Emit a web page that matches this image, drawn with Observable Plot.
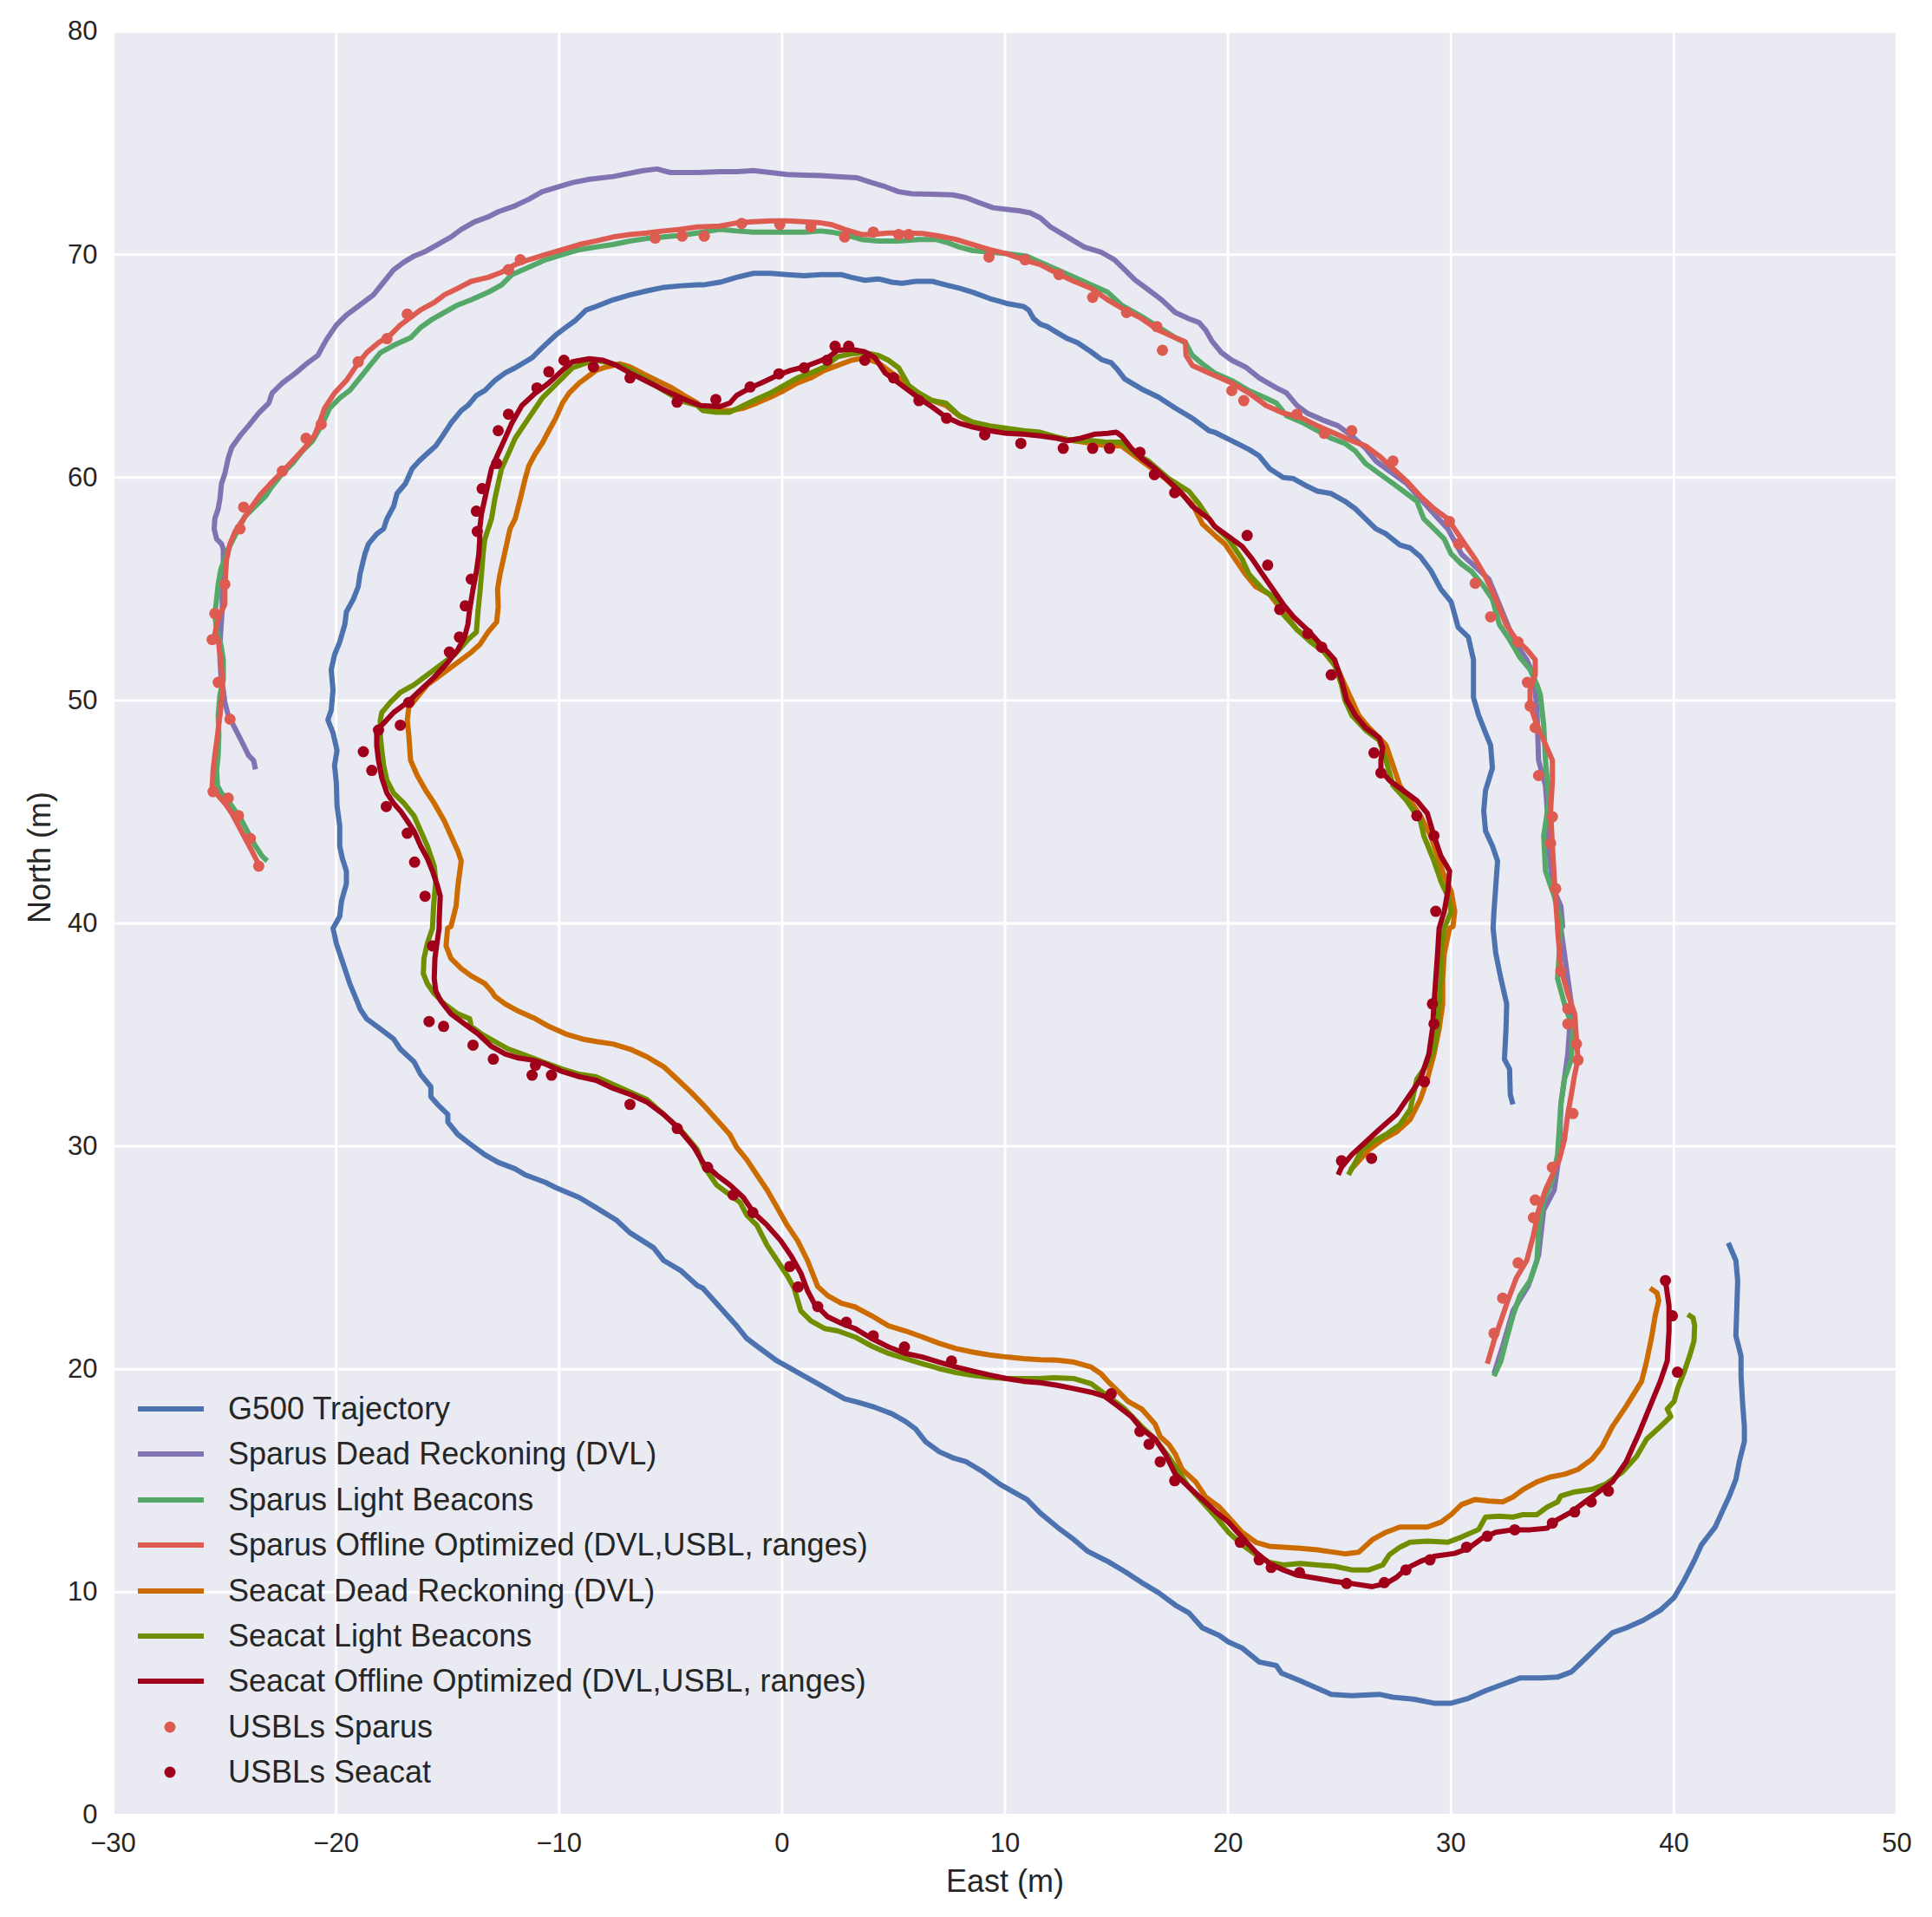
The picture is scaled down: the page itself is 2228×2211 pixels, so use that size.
<!DOCTYPE html>
<html><head><meta charset="utf-8">
<script src="https://cdn.jsdelivr.net/npm/d3@7"></script>
<script src="https://cdn.jsdelivr.net/npm/@observablehq/plot@0.6"></script>
<style>
html,body{margin:0;padding:0;background:#fff;}
#wrap{position:relative;width:2228px;height:2211px;font-family:"Liberation Sans",Arial,sans-serif;color:#262626;}
.leg{position:absolute;left:159px;height:50px;display:flex;align-items:center;white-space:nowrap;font-size:36px;}
.leg svg{width:76px;height:50px;margin-right:28px;flex:none;}
</style></head><body><div id="wrap"></div>
<script>
// ---------- tick labels ----------
const xTicks = [-30,-20,-10,0,10,20,30,40,50];
const yTicks = [0,10,20,30,40,50,60,70,80];
const xLabel = "East (m)";
const yLabel = "North (m)";

// ---------- series names ----------
const names = [
  "G500 Trajectory",
  "Sparus Dead Reckoning (DVL)",
  "Sparus Light Beacons",
  "Sparus Offline Optimized (DVL,USBL, ranges)",
  "Seacat Dead Reckoning (DVL)",
  "Seacat Light Beacons",
  "Seacat Offline Optimized (DVL,USBL, ranges)",
  "USBLs Sparus",
  "USBLs Seacat"
];

// ---------- data: [East, North] ----------
const g500 = [[42.44,25.67],[42.78,24.88],[42.86,23.98],[42.81,22.40],[42.78,21.50],[43.01,20.59],[43.01,19.69],[43.09,18.34],[43.16,17.43],[43.16,16.76],[42.93,15.85],[42.78,15.06],[42.47,14.27],[42.16,13.60],[41.85,12.92],[41.24,12.13],[40.93,11.45],[40.47,10.55],[40.01,9.76],[39.39,9.19],[38.63,8.74],[37.86,8.40],[37.24,8.18],[36.63,7.61],[36.01,7.00],[35.40,6.42],[34.78,6.19],[34.01,6.15],[33.09,6.15],[32.47,5.92],[31.55,5.58],[30.78,5.24],[30.01,5.02],[29.24,5.02],[28.32,5.20],[27.40,5.29],[26.78,5.42],[25.55,5.36],[24.63,5.42],[24.01,5.69],[23.24,6.03],[22.40,6.37],[22.17,6.71],[21.40,6.87],[20.63,7.50],[20.02,7.77],
[19.61,8.06],[18.85,8.40],[18.24,9.08],[17.64,9.42],[16.88,9.98],[16.13,10.43],[15.37,10.93],[14.61,11.38],[13.70,11.84],[13.10,12.35],[12.34,12.92],[11.58,13.55],[10.98,14.16],[10.37,14.50],[9.77,14.84],[9.01,15.40],[8.26,15.85],[7.65,16.03],[7.05,16.30],[6.44,16.75],[5.99,17.32],[5.53,17.66],[4.93,18.00],[4.17,18.29],[3.41,18.52],[2.81,18.67],[2.20,19.01],[1.60,19.35],[0.99,19.69],[0.39,20.03],[-0.22,20.37],[-1.13,21.04],[-1.58,21.38],[-2.04,21.95],[-2.94,22.96],[-3.55,23.64],
[-3.80,23.75],[-4.55,24.43],[-5.31,24.88],[-5.76,25.45],[-6.82,26.12],[-7.43,26.69],[-8.34,27.25],[-9.09,27.70],[-10.15,28.15],[-10.61,28.38],[-11.52,28.72],[-11.97,28.99],[-12.73,29.28],[-13.33,29.62],[-13.94,30.07],[-14.54,30.53],[-14.99,31.09],[-14.99,31.43],[-15.45,31.88],[-15.75,32.22],[-15.75,32.67],[-16.21,33.23],[-16.51,33.80],[-17.12,34.36],[-17.42,34.81],[-18.02,35.27],[-18.63,35.72],[-18.93,36.17],[-19.01,36.39],[-19.39,37.30],[-19.61,37.97],[-19.99,39.10],[-20.14,39.78],
[-19.84,40.31],[-19.76,40.99],[-19.54,41.78],[-19.54,42.35],[-19.72,42.91],[-19.84,43.47],[-19.84,44.38],[-19.96,45.28],[-19.99,46.30],[-20.07,47.09],[-19.96,47.76],[-20.14,48.55],[-20.37,49.12],[-20.22,49.57],[-20.14,50.47],[-20.22,51.38],[-20.07,52.05],[-19.84,52.62],[-19.61,53.41],[-19.54,53.97],[-19.23,54.54],[-19.01,55.10],[-18.93,55.66],[-18.71,56.57],[-18.55,57.02],[-18.18,57.47],[-17.87,57.70],[-17.72,58.15],[-17.42,58.71],[-17.27,59.28],[-16.89,59.73],[-16.59,60.40],[-16.28,60.74],[-15.91,61.08],[-15.53,61.42],[-15.22,61.87],[-14.85,62.44],[-14.39,63.00],[-14.09,63.23],[-13.71,63.68],[-13.33,63.90],[-12.88,64.35],[-12.42,64.69],[-11.97,64.92],[-11.21,65.37],[-10.76,65.82],[-10.15,66.39],[-9.70,66.73],[-9.25,67.06],[-8.79,67.51],[-8.34,67.67],[-7.58,67.97],[-6.82,68.19],[-6.07,68.37],[-5.31,68.53],[-4.55,68.60],[-3.80,68.64],
[-3.55,68.64],[-2.79,68.76],[-2.04,68.98],[-1.28,69.16],[-0.52,69.16],[0.23,69.10],[0.99,69.05],[1.75,69.10],[2.66,69.10],[3.11,68.98],[3.71,68.85],[4.32,68.91],[4.93,68.76],[5.38,68.71],[5.99,68.80],[6.74,68.80],[7.35,68.64],[7.95,68.49],[8.56,68.31],[9.31,68.03],[9.77,67.90],[10.07,67.81],[10.83,67.67],[11.06,67.52],[11.28,67.13],[11.58,66.88],[11.89,66.77],[12.34,66.50],[12.80,66.23],[13.25,66.05],[13.86,65.64],[14.31,65.30],[14.76,65.15],[15.07,64.81],[15.37,64.42],[16.13,63.97],[16.88,63.61],[17.64,63.11],[18.40,62.66],[19.15,62.10],
[19.40,62.03],[20.17,61.65],[20.94,61.26],[21.40,60.97],[21.86,60.40],[22.48,60.00],[22.94,59.95],[23.55,59.61],[24.01,59.39],[24.63,59.28],[25.24,58.94],[25.71,58.60],[26.17,58.15],[26.63,57.70],[27.09,57.47],[27.71,56.97],[28.17,56.84],[28.63,56.45],[29.09,55.84],[29.55,54.99],[30.01,54.42],[30.32,53.29],[30.78,52.84],[31.01,51.83],[31.01,50.13],[31.24,49.34],[31.55,48.55],[31.78,47.99],[31.86,46.97],[31.55,45.96],[31.47,45.05],[31.55,44.15],[31.86,43.47],[32.09,42.80],[32.01,41.67],[31.93,40.54],
[31.89,39.78],[32.01,38.65],[32.24,37.52],[32.50,36.39],[32.47,35.27],[32.40,33.91],[32.63,33.46],[32.66,32.33],[32.78,31.88]];

const sparusDR = [[-23.62,46.91],[-23.70,47.31],[-23.93,47.54],[-24.15,47.99],[-24.38,48.44],[-24.61,48.89],[-24.84,49.34],[-24.99,49.91],[-25.06,50.47],[-25.17,51.15],[-25.21,51.83],[-25.21,52.50],[-25.17,53.18],[-25.11,54.08],[-25.11,54.99],[-25.06,55.89],[-25.06,56.79],[-25.14,57.02],[-25.36,57.24],[-25.47,57.70],[-25.44,58.15],[-25.29,58.60],[-25.21,59.05],[-25.14,59.73],[-24.99,60.18],[-24.84,60.86],[-24.68,61.35],[-24.31,61.87],[-23.93,62.32],[-23.47,62.89],[-23.02,63.34],[-22.87,63.79],[-22.41,64.24],[-21.81,64.69],[-21.28,65.14],[-20.82,65.48],[-20.45,66.16],[-19.99,66.84],[-19.54,67.29],[-18.93,67.74],[-18.33,68.19],[-17.87,68.76],[-17.42,69.32],[-16.96,69.66],[-16.51,69.93],[-16.06,70.11],[-15.45,70.45],[-14.85,70.79],[-14.39,71.13],[-13.79,71.47],[-13.18,71.69],[-12.73,71.92],[-11.97,72.19],[-11.36,72.48],[-10.76,72.82],[-10.15,73.00],[-9.40,73.23],[-8.64,73.38],[-7.58,73.50],[-6.22,73.77],[-5.61,73.84],[-5.01,73.68],[-3.80,73.68],
[-2.79,73.72],[-2.04,73.72],[-1.28,73.77],[-0.52,73.68],[0.23,73.59],[0.99,73.56],[1.75,73.54],[2.50,73.50],[3.34,73.45],[4.02,73.23],[4.62,73.05],[5.23,72.82],[5.83,72.73],[6.74,72.71],[7.65,72.68],[8.26,72.55],[8.86,72.32],[9.47,72.10],[10.07,72.03],[10.68,71.96],[11.13,71.87],[11.58,71.65],[12.04,71.24],[12.80,70.79],[13.55,70.34],[14.31,70.11],[14.91,69.77],[15.37,69.32],[15.82,68.87],[16.43,68.42],[17.03,67.97],[17.64,67.40],[18.24,67.13],[18.70,66.95],[19.00,66.61],[19.30,66.09],
[19.71,65.60],[20.17,65.26],[20.78,64.96],[21.40,64.47],[22.17,64.02],[22.63,63.79],[23.09,63.23],[23.55,62.89],[24.32,62.55],[24.94,62.32],[25.55,61.87],[26.17,61.31],[26.63,60.74],[27.24,60.29],[28.01,59.73],[28.63,59.05],[29.24,58.37],[29.86,57.70],[30.47,56.57],[31.09,56.00],[31.70,55.44],[32.17,54.31],[32.63,53.18],[32.93,52.50],[33.40,51.83],[33.70,51.15],[33.86,49.57],[33.93,47.31],[34.24,46.18],[34.32,45.05],[34.40,43.25],[34.55,41.67],[34.93,40.77],[35.01,39.86],
[34.93,39.78],[35.40,36.39],[35.24,34.14],[34.93,31.88],[34.86,29.62],[34.63,28.04],[34.16,27.14],[33.93,25.11],[33.47,23.75],[32.78,22.62],[32.32,21.04],[31.93,19.80]];

const sparusLB = [[-23.09,42.80],[-23.32,43.02],[-23.62,43.47],[-23.93,44.04],[-24.23,44.60],[-24.53,45.05],[-24.84,45.51],[-25.14,45.84],[-25.32,46.18],[-25.36,46.86],[-25.29,47.54],[-25.26,48.44],[-25.29,49.34],[-25.21,50.25],[-25.06,50.92],[-25.06,51.83],[-25.17,52.50],[-25.36,53.18],[-25.44,53.86],[-25.36,54.54],[-25.29,55.21],[-25.17,55.89],[-24.99,56.34],[-24.84,56.79],[-24.61,57.24],[-24.38,57.70],[-24.08,58.26],[-23.62,58.71],[-23.17,59.16],[-22.87,59.61],[-22.41,60.18],[-21.96,60.63],[-21.51,61.19],[-21.05,61.65],[-20.60,62.44],[-20.29,63.11],[-19.84,63.56],[-19.39,63.90],[-18.93,64.47],[-18.48,65.03],[-18.02,65.60],[-17.42,65.93],[-16.66,66.27],[-16.21,66.73],[-15.75,67.06],[-15.15,67.40],[-14.54,67.74],[-13.94,67.97],[-13.18,68.31],[-12.58,68.64],[-12.12,69.10],[-11.36,69.43],[-10.61,69.77],[-9.85,70.00],[-9.09,70.22],[-8.34,70.34],[-7.58,70.45],[-6.82,70.61],[-6.07,70.72],[-5.31,70.79],[-4.55,70.86],[-3.80,70.97],
[-3.55,71.01],[-2.79,71.13],[-2.04,71.06],[-1.28,71.01],[-0.52,71.01],[0.23,71.01],[0.99,71.01],[1.75,71.06],[2.20,71.01],[2.81,70.90],[3.56,70.68],[4.32,70.61],[5.23,70.61],[6.14,70.68],[6.89,70.68],[7.35,70.56],[7.95,70.34],[8.56,70.18],[9.31,70.11],[10.07,70.04],[10.98,69.93],[11.58,69.66],[12.34,69.32],[13.10,68.98],[13.86,68.64],[14.61,68.31],[15.22,67.74],[16.13,67.22],[16.73,66.84],[17.64,66.27],[18.09,66.05],[18.40,65.48],[18.85,65.10],
[19.40,64.69],[20.17,64.35],[20.94,63.90],[21.71,63.56],[22.17,63.34],[22.63,62.77],[23.40,62.44],[24.01,62.10],[24.63,61.76],[25.24,61.53],[25.71,61.19],[26.17,60.63],[26.78,60.18],[27.40,59.73],[28.01,59.28],[28.47,58.94],[28.78,58.15],[29.24,57.70],[29.70,57.24],[30.01,56.57],[30.47,56.12],[30.93,55.78],[31.40,55.21],[31.86,54.54],[32.17,53.41],[32.63,52.73],[33.09,51.94],[33.55,51.38],[33.86,50.70],[34.01,50.25],[34.16,48.89],[34.24,47.31],[34.40,45.51],[34.16,43.93],[34.24,42.35],[34.63,41.22],[34.93,40.09],
[34.93,39.78],[34.78,37.52],[35.09,36.39],[35.47,35.27],[35.40,33.91],[35.09,33.01],[34.93,31.88],[34.78,29.62],[34.55,28.49],[34.16,27.59],[33.93,26.24],[33.86,24.88],[33.55,23.98],[33.09,23.30],[32.78,22.40],[32.47,21.27],[32.24,20.37],[31.93,19.69]];

const sparusOpt = [[-23.40,42.46],[-23.55,42.80],[-23.78,43.25],[-24.08,43.81],[-24.38,44.38],[-24.68,44.94],[-24.99,45.39],[-25.29,45.73],[-25.56,46.07],[-25.52,46.86],[-25.44,47.54],[-25.32,48.44],[-25.21,49.34],[-25.11,50.25],[-25.11,51.15],[-25.21,52.05],[-25.29,52.73],[-25.44,52.96],[-25.36,53.41],[-25.21,53.86],[-24.99,54.31],[-24.99,54.99],[-24.96,55.66],[-24.91,56.34],[-24.76,57.02],[-24.53,57.58],[-24.23,58.03],[-23.85,58.60],[-23.40,59.23],[-22.94,59.73],[-22.49,60.18],[-21.96,60.74],[-21.43,61.31],[-20.98,61.87],[-20.75,62.44],[-20.52,63.11],[-20.07,63.79],[-19.54,64.35],[-19.08,65.03],[-18.63,65.60],[-18.10,66.05],[-17.57,66.39],[-17.12,66.84],[-16.66,67.18],[-16.21,67.52],[-15.60,67.85],[-15.15,68.19],[-14.54,68.49],[-13.94,68.80],[-13.18,68.98],[-12.58,69.21],[-11.97,69.55],[-11.36,69.77],[-10.61,70.00],[-9.85,70.22],[-9.09,70.45],[-8.34,70.61],[-7.58,70.79],[-6.82,70.90],[-6.07,70.97],[-5.31,71.06],[-4.55,71.13],[-3.80,71.24],
[-2.79,71.28],[-2.04,71.42],[-1.28,71.47],[-0.52,71.51],[0.23,71.51],[0.99,71.47],[1.75,71.42],[2.20,71.35],[2.81,71.13],[3.56,70.90],[4.02,70.90],[4.77,70.97],[5.53,70.97],[6.29,70.95],[7.05,70.83],[7.80,70.68],[8.56,70.45],[9.31,70.22],[10.07,70.04],[10.83,69.77],[11.58,69.55],[12.34,69.16],[13.10,68.80],[13.86,68.49],[14.61,67.97],[15.37,67.52],[16.13,67.13],[16.88,66.61],[17.64,66.27],[18.09,66.09],[18.12,65.48],[18.40,65.03],[19.15,64.69],
[19.40,64.58],[20.17,64.24],[20.94,63.79],[21.71,63.23],[22.48,62.89],[23.24,62.71],[24.01,62.32],[24.78,61.98],[25.55,61.65],[26.17,61.42],[26.78,60.97],[27.40,60.40],[28.01,59.84],[28.63,59.16],[29.24,58.60],[29.86,58.15],[30.47,57.24],[31.09,56.34],[31.55,55.55],[32.01,54.54],[32.47,53.41],[32.93,52.73],[33.40,52.28],[33.78,51.83],[33.78,51.15],[33.55,50.47],[33.55,49.79],[33.86,48.89],[34.16,48.21],[34.55,47.31],[34.55,46.41],[34.47,45.05],[34.55,43.47],[34.63,42.12],[34.70,40.99],[34.78,39.86],
[34.78,39.78],[34.93,37.97],[35.24,36.85],[35.55,35.94],[35.63,34.81],[35.70,33.91],[35.55,33.23],[35.40,32.33],[35.24,31.43],[35.09,30.30],[34.86,29.40],[34.55,28.72],[34.24,28.04],[33.93,27.14],[33.70,26.01],[33.40,24.88],[32.93,24.09],[32.55,23.08],[32.24,22.17],[31.93,21.27],[31.63,20.25]];

const seacatDR = [[38.93,23.64],[39.24,23.42],[39.32,23.08],[39.16,22.40],[39.01,21.50],[38.78,20.37],[38.55,19.46],[37.86,18.34],[37.24,17.43],[36.78,16.53],[36.32,15.96],[35.70,15.51],[35.09,15.29],[34.47,15.17],[33.86,14.95],[33.24,14.61],[32.78,14.27],[32.32,14.05],[31.70,14.09],[31.09,14.16],[30.47,13.93],[30.01,13.48],[29.55,13.14],[28.94,12.92],[28.32,12.92],[27.71,12.92],[27.09,12.69],[26.47,12.35],[25.86,11.79],[25.24,11.72],[24.78,11.79],[24.01,11.90],[23.24,11.97],[22.48,12.02],[21.86,12.06],[21.25,12.24],[20.63,12.69],[20.02,13.37],
[19.61,13.82],[19.00,14.27],[18.55,14.95],[17.94,15.51],[17.64,16.19],[17.34,16.64],[16.96,16.98],[16.73,17.54],[16.13,18.22],[15.52,18.56],[15.07,19.01],[14.61,19.46],[14.31,19.80],[13.86,20.10],[13.10,20.32],[12.34,20.41],[11.58,20.43],[10.83,20.48],[10.07,20.55],[9.31,20.64],[8.56,20.77],[7.80,20.93],[7.05,21.16],[6.29,21.45],[5.53,21.72],[4.77,21.95],[4.02,22.40],[3.26,22.80],[2.66,22.96],[2.05,23.30],[1.60,23.71],[1.14,24.88],[0.69,25.78],[0.23,26.46],[-0.22,27.25],[-0.67,28.04],[-1.13,28.72],[-1.58,29.40],[-2.04,29.96],[-2.34,30.53],[-2.94,31.20],[-3.55,31.88],
[-4.10,32.44],[-4.70,33.01],[-5.31,33.57],[-6.07,34.02],[-6.82,34.36],[-7.58,34.59],[-8.34,34.70],[-8.94,34.81],[-9.70,35.04],[-10.46,35.38],[-11.06,35.72],[-11.82,36.06],[-12.42,36.39],[-12.88,36.73],[-13.03,36.96],[-13.33,37.30],[-13.94,37.64],[-14.39,37.97],[-14.85,38.43],[-15.07,38.99],[-15.00,39.78],
[-14.85,39.86],[-14.62,40.77],[-14.54,41.67],[-14.39,42.80],[-14.54,43.25],[-14.85,43.93],[-15.15,44.60],[-15.60,45.39],[-15.98,45.96],[-16.36,46.63],[-16.66,47.31],[-16.74,48.44],[-16.81,49.12],[-16.74,49.68],[-15.91,50.70],[-15.30,51.15],[-14.54,51.71],[-13.94,52.16],[-13.56,52.50],[-13.18,53.07],[-12.80,53.52],[-12.73,54.20],[-12.76,54.99],[-12.65,55.66],[-12.50,56.34],[-12.35,57.02],[-12.20,57.70],[-11.97,58.15],[-11.74,59.05],[-11.52,59.95],[-11.36,60.52],[-11.06,61.08],[-10.76,61.53],[-10.46,62.10],[-10.15,62.66],[-9.85,63.34],[-9.55,63.79],[-9.09,64.24],[-8.64,64.58],[-8.34,64.81],[-7.88,64.96],[-7.28,65.10],[-6.82,64.96],[-6.22,64.65],[-5.61,64.35],[-5.01,64.06],[-4.40,63.68],[-3.80,63.34],
[-3.55,63.11],[-2.79,63.00],[-2.34,63.00],[-1.73,63.11],[-1.13,63.34],[-0.52,63.61],[0.08,63.90],[0.69,64.24],[1.29,64.47],[1.90,64.81],[2.50,65.03],[3.11,65.26],[3.71,65.37],[4.32,65.14],[4.77,64.81],[5.23,64.47],[5.68,64.02],[6.14,63.68],[6.74,63.45],[7.35,63.23],[7.95,62.77],[8.56,62.44],[9.31,62.26],[10.07,62.10],[10.83,61.98],[11.58,61.98],[12.34,61.80],[13.10,61.65],[13.86,61.53],[14.61,61.42],[15.22,61.42],[15.82,60.97],[16.43,60.52],[17.19,59.95],[17.79,59.39],[18.40,58.82],[18.85,57.92],[19.46,57.36],
[19.86,57.02],[20.32,56.34],[20.78,55.66],[21.25,55.10],[21.86,54.76],[22.48,53.97],[23.09,53.18],[23.71,52.73],[24.32,52.17],[24.94,51.38],[25.24,50.70],[25.55,50.02],[25.86,49.34],[26.32,48.78],[26.78,48.33],[27.09,47.99],[27.40,47.09],[27.71,46.18],[28.17,45.51],[28.63,44.83],[29.09,43.93],[29.40,43.02],[29.70,42.12],[30.01,41.44],[30.17,40.54],[30.09,39.86],
[29.94,39.78],[29.70,38.65],[29.63,37.52],[29.63,36.39],[29.47,35.27],[29.24,34.14],[28.94,33.01],[28.63,32.11],[28.17,31.20],[27.55,30.64],[26.94,30.30],[26.32,29.85],[25.71,29.17],[25.48,28.94]];

const seacatLB = [[40.62,22.46],[40.86,22.30],[40.93,21.95],[40.90,21.27],[40.70,20.59],[40.47,19.91],[40.16,19.12],[40.01,18.56],[39.70,18.22],[39.86,17.88],[39.39,17.43],[38.78,16.87],[38.32,16.08],[37.70,15.40],[36.93,14.84],[36.32,14.61],[35.55,14.50],[34.93,14.32],[34.78,14.05],[34.32,13.82],[33.86,13.48],[33.24,13.48],[32.78,13.37],[32.17,13.41],[31.55,13.37],[31.24,12.81],[30.47,12.47],[29.86,12.24],[28.94,12.29],[28.17,12.24],[27.71,12.02],[27.24,11.68],[26.94,11.22],[26.32,11.00],[25.55,11.00],[24.78,11.16],[24.01,11.22],[23.24,11.29],[22.48,11.22],[21.86,11.34],[21.25,11.68],[20.63,12.13],[20.02,12.69],
[19.46,13.37],[18.85,14.05],[18.24,14.72],[17.79,15.40],[17.34,16.08],[16.73,16.87],[16.13,17.43],[15.37,18.22],[14.61,18.79],[13.86,19.35],[13.10,19.58],[12.19,19.62],[11.58,19.58],[10.83,19.58],[10.07,19.58],[9.31,19.64],[8.56,19.73],[7.80,19.85],[7.05,20.03],[6.29,20.25],[5.53,20.48],[4.77,20.71],[4.02,21.04],[3.26,21.45],[2.50,21.72],[1.90,21.83],[1.29,22.17],[0.84,22.62],[0.54,23.64],[0.23,24.20],[-0.22,24.88],[-0.67,25.56],[-1.13,26.46],[-1.58,26.91],[-1.88,27.48],[-2.34,27.82],[-2.94,28.27],[-3.55,29.17],
[-3.80,29.85],[-4.55,30.75],[-5.31,31.43],[-6.07,32.11],[-6.82,32.44],[-7.58,32.78],[-8.34,33.12],[-9.09,33.23],[-9.85,33.46],[-10.46,33.69],[-11.06,33.91],[-11.67,34.14],[-12.27,34.36],[-12.88,34.70],[-13.48,35.04],[-13.94,35.38],[-14.01,35.72],[-14.54,35.94],[-15.15,36.39],[-15.60,36.85],[-15.91,37.30],[-16.09,37.75],[-16.06,38.43],[-15.91,39.10],[-15.68,39.78],
[-15.63,40.77],[-15.53,41.89],[-15.60,42.57],[-15.91,43.47],[-16.21,44.15],[-16.51,44.83],[-16.96,45.39],[-17.42,45.84],[-17.72,46.41],[-17.87,47.09],[-17.95,47.76],[-18.02,48.44],[-18.02,49.12],[-17.95,49.46],[-17.57,49.91],[-17.12,50.36],[-16.51,50.70],[-15.91,51.15],[-15.30,51.60],[-14.69,52.05],[-14.09,52.73],[-13.71,53.07],[-13.63,54.08],[-13.56,54.76],[-13.48,55.66],[-13.41,56.57],[-13.33,57.24],[-13.18,57.70],[-13.03,58.15],[-12.88,59.05],[-12.73,59.73],[-12.58,60.40],[-12.27,61.08],[-11.97,61.76],[-11.67,62.21],[-11.21,62.89],[-10.76,63.56],[-10.30,64.02],[-9.85,64.47],[-9.40,64.92],[-8.79,65.14],[-8.34,65.26],[-7.73,65.14],[-6.97,64.92],[-6.22,64.47],[-5.31,63.90],[-4.55,63.45],[-3.80,63.23],
[-3.55,63.00],[-2.94,62.93],[-2.34,62.93],[-1.73,63.23],[-1.13,63.52],[-0.52,63.79],[0.08,64.13],[0.69,64.47],[1.29,64.69],[1.90,64.96],[2.50,65.42],[3.11,65.55],[3.71,65.60],[4.32,65.48],[4.77,65.26],[5.23,64.92],[5.68,64.13],[6.14,63.79],[6.74,63.45],[7.35,63.34],[7.95,62.77],[8.56,62.48],[9.31,62.32],[10.07,62.21],[10.83,62.10],[11.58,62.03],[12.34,61.80],[13.10,61.65],[13.86,61.65],[14.61,61.58],[15.22,61.58],[15.82,61.08],[16.43,60.74],[17.34,59.95],[18.24,59.39],[18.70,58.82],[19.15,58.15],
[19.40,57.81],[20.02,57.24],[20.63,56.34],[20.94,55.66],[21.55,54.99],[22.17,54.54],[22.48,53.86],[23.09,53.18],[23.71,52.62],[24.32,52.17],[24.78,51.60],[25.09,50.70],[25.24,50.02],[25.55,49.34],[26.17,48.67],[26.78,48.21],[27.09,47.31],[27.40,46.18],[28.01,45.51],[28.63,44.60],[28.78,43.93],[29.24,42.80],[29.55,41.89],[29.86,41.22],[30.01,40.54],
[29.70,39.78],[29.55,38.65],[29.55,37.52],[29.47,36.39],[29.40,35.27],[29.24,34.36],[28.94,33.69],[28.47,33.01],[28.17,31.65],[27.71,30.98],[27.09,30.53],[26.47,30.19],[26.01,29.85],[25.71,29.28],[25.40,28.72]];

const seacatOpt = [[39.62,23.98],[39.78,22.85],[39.78,21.72],[39.70,20.37],[39.39,19.46],[38.93,18.34],[38.47,17.21],[37.86,15.85],[37.24,14.95],[36.63,14.50],[36.01,14.05],[35.40,13.60],[34.78,13.26],[34.32,12.87],[33.55,12.80],[32.78,12.80],[32.01,12.69],[31.40,12.42],[30.78,11.97],[30.17,11.74],[29.24,11.61],[28.63,11.38],[28.01,11.07],[27.55,10.66],[27.09,10.39],[26.47,10.25],[25.55,10.39],[24.78,10.48],[24.01,10.62],[23.09,10.77],[22.48,11.00],[21.86,11.29],[21.25,11.79],[20.63,12.47],[20.02,13.14],
[19.46,13.60],[18.85,14.16],[18.24,14.72],[17.64,15.29],[17.19,16.19],[16.73,16.87],[16.13,17.32],[15.67,17.88],[15.07,18.34],[14.46,18.79],[13.86,18.97],[13.10,19.13],[12.34,19.28],[11.58,19.40],[10.83,19.46],[10.07,19.58],[9.31,19.74],[8.56,19.92],[7.80,20.10],[7.05,20.32],[6.29,20.55],[5.53,20.71],[4.77,21.00],[4.02,21.38],[3.26,21.83],[2.66,22.06],[2.05,22.35],[1.44,22.96],[1.14,23.53],[0.84,24.32],[0.39,25.11],[-0.07,25.78],[-0.67,26.46],[-1.28,27.03],[-1.73,27.70],[-2.34,28.27],[-2.94,28.72],[-3.55,29.28],
[-3.95,29.96],[-4.70,30.86],[-5.31,31.43],[-6.07,31.99],[-6.82,32.33],[-7.58,32.60],[-8.34,32.96],[-9.09,33.12],[-9.85,33.35],[-10.61,33.69],[-11.21,33.87],[-11.82,33.96],[-12.42,34.14],[-13.03,34.48],[-13.63,35.04],[-14.24,35.49],[-14.85,35.94],[-15.30,36.51],[-15.53,36.96],[-15.60,37.52],[-15.57,38.43],[-15.48,39.10],[-15.38,39.78],
[-15.38,40.09],[-15.33,41.22],[-15.45,41.67],[-15.68,42.35],[-15.91,42.91],[-16.21,43.47],[-16.51,44.15],[-16.81,44.60],[-17.12,45.05],[-17.42,45.39],[-17.72,45.84],[-17.95,46.52],[-18.10,47.31],[-18.18,47.99],[-18.18,48.67],[-17.95,48.89],[-17.42,49.46],[-16.81,49.91],[-16.21,50.47],[-15.60,51.04],[-14.99,51.71],[-14.54,52.28],[-14.24,52.84],[-14.09,53.41],[-14.01,54.08],[-13.86,54.99],[-13.71,55.78],[-13.60,56.57],[-13.56,57.24],[-13.56,57.70],[-13.48,58.37],[-13.33,59.05],[-13.18,59.73],[-13.03,60.40],[-12.73,61.08],[-12.42,61.76],[-12.12,62.44],[-11.67,63.23],[-11.06,63.79],[-10.46,64.24],[-9.85,64.81],[-9.40,65.19],[-8.64,65.33],[-8.03,65.26],[-7.43,65.03],[-6.82,64.69],[-5.92,64.24],[-5.01,63.79],[-4.25,63.45],[-3.65,63.23],
[-2.79,63.18],[-2.34,63.34],[-2.04,63.68],[-1.43,64.02],[-0.83,64.29],[-0.22,64.58],[0.39,64.81],[0.99,64.96],[1.60,65.19],[2.05,65.37],[2.50,65.71],[3.11,65.75],[3.71,65.64],[4.17,65.37],[4.62,64.69],[5.08,64.35],[5.68,63.90],[6.14,63.56],[6.74,63.16],[7.35,62.71],[7.95,62.44],[8.56,62.26],[9.31,62.10],[10.07,61.98],[10.83,61.94],[11.58,61.87],[12.34,61.76],[12.80,61.65],[13.40,61.76],[14.01,61.94],[14.61,61.98],[14.99,62.03],[15.22,61.87],[15.67,61.31],[16.13,60.86],[16.73,60.40],[17.34,59.84],[17.94,59.28],[18.40,58.71],[19.15,58.15],
[19.40,57.81],[20.02,57.36],[20.63,56.91],[21.09,56.34],[21.55,55.66],[22.01,54.99],[22.48,54.31],[22.94,53.75],[23.55,53.18],[24.17,52.50],[24.78,51.83],[25.09,50.92],[25.32,50.02],[25.71,49.34],[26.17,48.78],[26.78,48.33],[26.94,47.88],[26.86,47.31],[26.86,46.86],[27.24,46.41],[27.86,45.96],[28.47,45.51],[28.94,44.94],[29.24,43.93],[29.55,43.02],[29.94,42.35],[29.86,41.44],[29.70,40.54],
[29.47,39.78],[29.40,38.65],[29.32,37.52],[29.24,36.39],[29.17,35.27],[29.01,34.14],[28.63,33.01],[28.17,32.33],[27.55,31.43],[26.78,30.75],[26.17,30.19],[25.55,29.62],[25.09,29.06],[24.94,28.72]];

const usblSparus = [[-23.47,42.57],[-23.85,43.81],[-24.38,44.83],[-24.84,45.62],[-25.52,45.91],[-24.76,49.16],[-25.29,50.81],[-25.56,52.73],[-25.44,53.90],[-24.99,55.21],[-24.31,57.70],[-24.15,58.67],[-22.41,60.29],[-21.35,61.76],[-20.67,62.39],[-19.01,65.19],[-17.72,66.23],[-16.81,67.33],[-12.27,69.32],[-11.74,69.77],[-5.69,70.74],[-4.48,70.83],[-3.49,70.83],[-1.81,71.40],[-0.10,71.35],[1.29,71.24],[2.81,70.79],[4.09,71.01],[5.23,70.90],[5.68,70.90],[9.28,69.89],[10.90,69.77],[12.42,69.10],[13.93,68.08],[15.45,67.40],[16.81,66.77],[17.06,65.71],[20.17,63.90],[20.71,63.45],[23.09,62.84],[24.32,61.98],[25.55,62.10],[27.40,60.74],[29.93,58.03],[30.35,57.02],[31.09,55.26],[31.78,53.75],[33.01,52.62],[33.43,50.81],[33.55,49.75],[33.78,48.78],[33.93,46.63],[34.55,44.78],[34.47,43.59],[34.70,41.56],[34.93,37.86],[35.24,36.17],[35.24,35.49],[35.63,34.59],[35.70,33.87],[35.47,31.47],[34.55,29.06],[33.78,27.59],[33.70,26.80],[33.01,24.77],[32.32,23.19],[31.93,21.61]];

const usblSeacat = [[-9.78,65.26],[-10.46,64.74],[-10.99,64.02],[-12.27,62.84],[-12.73,62.10],[-12.80,60.63],[-13.45,59.50],[-13.71,58.49],[-13.67,57.58],[-13.94,55.44],[-14.21,54.24],[-14.47,52.84],[-14.92,52.17],[-16.74,49.91],[-17.12,48.89],[-18.10,48.67],[-18.78,47.70],[-18.40,46.86],[-17.75,45.24],[-16.81,44.04],[-16.48,42.75],[-16.01,41.22],[-15.68,38.99],[-15.83,35.60],[-15.18,35.38],[-13.86,34.54],[-12.95,33.91],[-11.21,33.19],[-10.34,33.19],[-11.06,33.64],[-6.82,31.88],[-4.70,30.80],[-3.34,29.06],[-2.19,27.82],[-1.31,27.03],[0.35,24.61],[0.72,23.69],[1.60,22.81],[2.88,22.11],[4.09,21.50],[5.49,21.00],[7.60,20.37],[14.76,18.90],[16.05,17.21],[16.46,16.64],[16.96,15.85],[17.61,15.00],[20.55,12.24],[21.40,11.45],[21.94,11.11],[23.21,10.88],[25.32,10.39],[27.01,10.43],[27.98,11.00],[29.06,11.45],[30.70,12.02],[31.63,12.51],[32.86,12.80],[34.55,13.10],[35.55,13.60],[36.29,14.05],[37.06,14.54],[40.16,19.87],[39.93,22.40],[39.62,23.98],[25.09,29.35],[26.44,29.46],[28.81,32.90],[29.17,36.39],[29.24,35.49],[29.32,40.54],[29.24,43.93],[28.47,44.83],[26.86,46.75],[26.55,47.65],[24.63,51.15],[24.20,52.39],[23.58,53.00],[22.32,54.08],[21.78,56.07],[20.86,57.40],[17.61,59.32],[16.70,60.13],[16.05,61.13],[14.69,61.31],[13.93,61.31],[12.61,61.31],[10.71,61.53],[9.09,61.92],[7.38,62.66],[6.14,63.45],[5.00,64.47],[3.71,65.26],[2.99,65.89],[2.38,65.89],[2.02,65.26],[0.99,64.92],[-0.14,64.65],[-1.43,64.06],[-2.97,63.50],[-8.46,64.96],[-6.82,64.47],[-4.71,63.38]];

// ---------- styling ----------
const colors = ["#4C72B0","#8172B2","#55A868","#DD5B50","#CC6C00","#6F8F00","#A0001A","#DD5B50","#A0001A"];
const lineSeries = [g500, sparusDR, sparusLB, sparusOpt, seacatDR, seacatLB, seacatOpt];
const dotSeries = [usblSparus, usblSeacat];

const fmt = d => d < 0 ? "\u2212" + Math.abs(d) : String(d);
const LW = 6, R = 6.5;

const chart = Plot.plot({
  width: 2228, height: 2211,
  marginLeft: 130, marginRight: 41, marginTop: 36, marginBottom: 118,
  x: {domain: [-30, 50]},
  y: {domain: [0, 80]},
  style: {fontFamily: "'Liberation Sans', Arial, sans-serif", background: "#ffffff", color: "#262626"},
  marks: [
    Plot.frame({fill: "#EAEAF2", stroke: "none"}),
    Plot.gridX(xTicks, {stroke: "#ffffff", strokeOpacity: 1, strokeWidth: 2.8}),
    Plot.gridY(yTicks, {stroke: "#ffffff", strokeOpacity: 1, strokeWidth: 2.8}),
    ...lineSeries.map((s, i) => Plot.line(s, {x: d => d[0], y: d => d[1], stroke: colors[i], strokeWidth: LW, strokeLinejoin: "round", strokeLinecap: "butt"})),
    ...dotSeries.map((s, i) => Plot.dot(s, {x: d => d[0], y: d => d[1], r: R, fill: colors[7 + i], stroke: "none"})),
    Plot.axisX(xTicks, {tickSize: 0, tickPadding: 20, fontSize: 31, tickFormat: fmt, label: null, fill: "#262626"}),
    Plot.axisY(yTicks, {tickSize: 0, tickPadding: 18, fontSize: 31, tickFormat: fmt, label: null, fill: "#262626"}),
    Plot.text([xLabel], {text: d => d, frameAnchor: "bottom", dy: 88, fontSize: 36, fill: "#262626"}),
    Plot.text([yLabel], {text: d => d, frameAnchor: "left", rotate: -90, dx: -84, fontSize: 36, fill: "#262626"})
  ]
});

const wrap = document.getElementById("wrap");
wrap.appendChild(chart);

// ---------- legend (HTML overlay) ----------
names.forEach((name, i) => {
  const row = document.createElement("div");
  row.className = "leg";
  const cy = 1625 + 52.4 * i;
  row.style.top = (cy - 25) + "px";
  const isDot = i >= 7;
  const sw = isDot
    ? `<svg viewBox="0 0 76 50"><circle cx="37" cy="25" r="${R}" fill="${colors[i]}"/></svg>`
    : `<svg viewBox="0 0 76 50"><line x1="0" y1="25" x2="76" y2="25" stroke="${colors[i]}" stroke-width="${LW}"/></svg>`;
  row.innerHTML = sw + `<span>${name}</span>`;
  wrap.appendChild(row);
});
</script></body></html>
